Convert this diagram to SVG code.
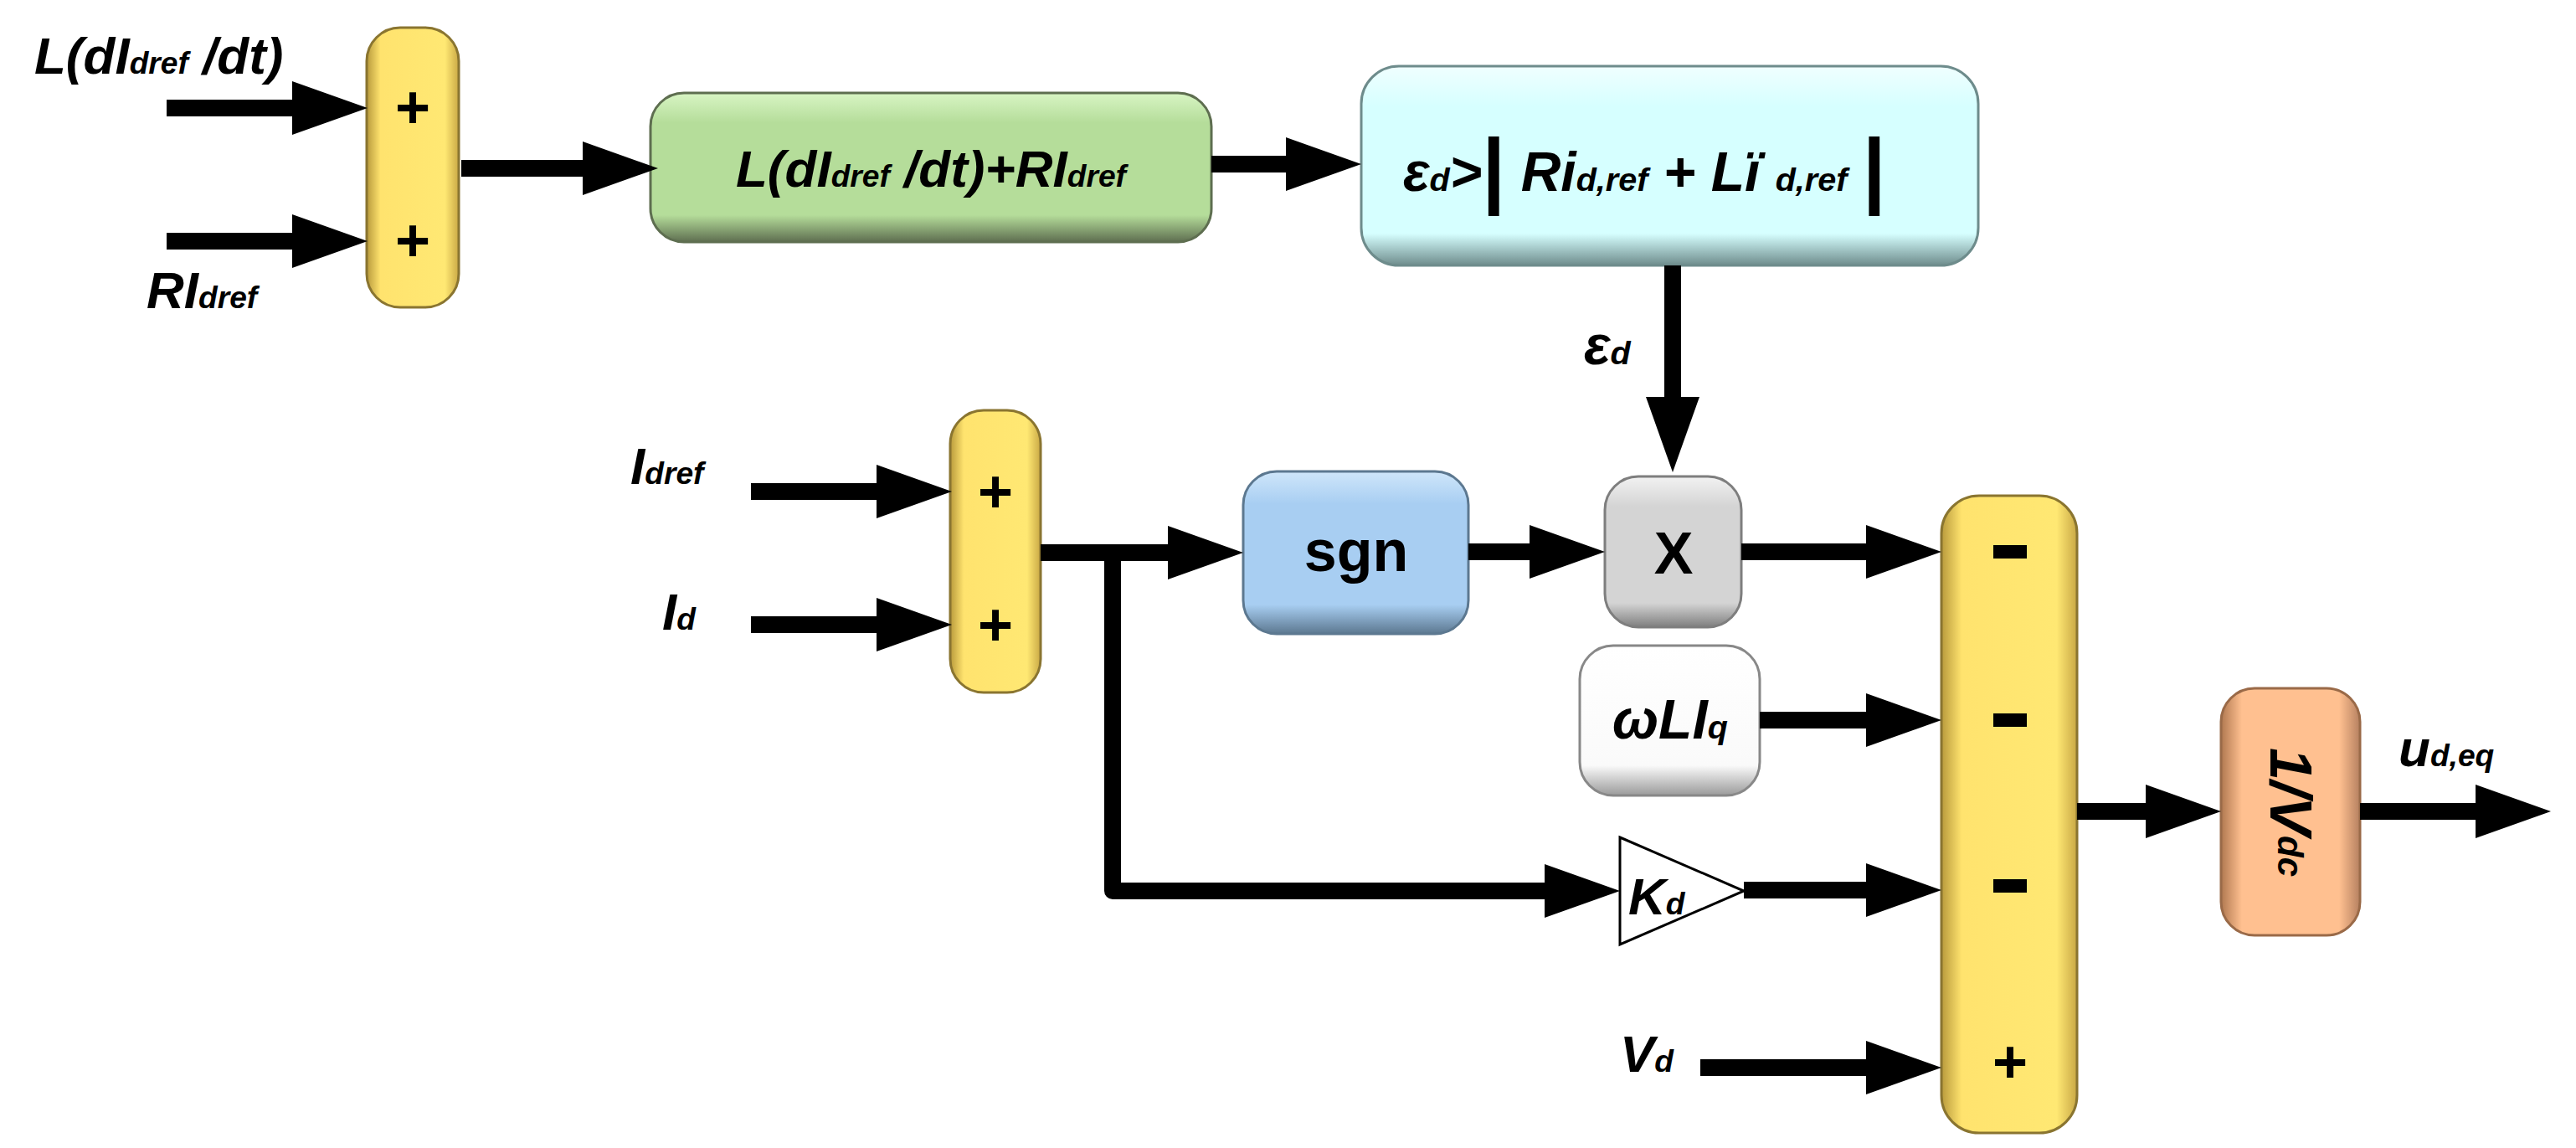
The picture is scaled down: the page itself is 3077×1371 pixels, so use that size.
<svg xmlns="http://www.w3.org/2000/svg" width="3077" height="1371" viewBox="0 0 3077 1371">
<style>
.t{font-family:"Liberation Sans",Arial,sans-serif;font-weight:bold;font-style:italic;fill:#000}
.u{font-family:"Liberation Sans",Arial,sans-serif;font-weight:bold;fill:#000}
.s{font-size:0.6em}
.c{fill:none;stroke:#000;stroke-width:20;stroke-linejoin:round}
.box{stroke-width:3}
</style>
<defs>
<marker id="ah" markerUnits="userSpaceOnUse" markerWidth="90" markerHeight="64" viewBox="0 0 90 64" refX="30" refY="32" orient="auto"><path d="M0,0 L90,32 L0,64 z" fill="#000"/></marker>
<linearGradient id="gy" x1="0" y1="0" x2="1" y2="0"><stop offset="0" stop-color="#B89A3C"/><stop offset="0.15" stop-color="#FFE36E"/><stop offset="0.85" stop-color="#FFE873"/><stop offset="1" stop-color="#C9A845"/></linearGradient>
<linearGradient id="gg" x1="0" y1="0" x2="0" y2="1"><stop offset="0" stop-color="#D8F5C4"/><stop offset="0.2" stop-color="#B5DD9A"/><stop offset="0.82" stop-color="#B5DD9A"/><stop offset="1" stop-color="#5E6E50"/></linearGradient>
<linearGradient id="gc" x1="0" y1="0" x2="0" y2="1"><stop offset="0" stop-color="#F0FFFF"/><stop offset="0.2" stop-color="#D6FFFF"/><stop offset="0.84" stop-color="#D6FFFF"/><stop offset="1" stop-color="#6E8C8C"/></linearGradient>
<linearGradient id="gb" x1="0" y1="0" x2="0" y2="1"><stop offset="0" stop-color="#CFE6FA"/><stop offset="0.2" stop-color="#A8CEF2"/><stop offset="0.82" stop-color="#A8CEF2"/><stop offset="1" stop-color="#5C7890"/></linearGradient>
<linearGradient id="ggr" x1="0" y1="0" x2="0" y2="1"><stop offset="0" stop-color="#F2F2F2"/><stop offset="0.2" stop-color="#D4D4D4"/><stop offset="0.84" stop-color="#D4D4D4"/><stop offset="1" stop-color="#7E7E7E"/></linearGradient>
<linearGradient id="gw" x1="0" y1="0" x2="0" y2="1"><stop offset="0" stop-color="#FFFFFF"/><stop offset="0.8" stop-color="#FAFAFA"/><stop offset="1" stop-color="#9A9A9A"/></linearGradient>
<linearGradient id="go" x1="0" y1="0" x2="1" y2="0"><stop offset="0" stop-color="#B07850"/><stop offset="0.15" stop-color="#FFC090"/><stop offset="0.85" stop-color="#FFC090"/><stop offset="1" stop-color="#B58060"/></linearGradient>
</defs>

<g id="sum1"><rect x="438" y="33" width="110" height="334" rx="40" fill="url(#gy)" stroke="#8A7530" class="box"/>
<text class="u" x="493" y="153" font-size="72" text-anchor="middle">+</text>
<text class="u" x="493" y="312" font-size="72" text-anchor="middle">+</text></g>

<g id="green"><rect x="777" y="111" width="670" height="178" rx="40" fill="url(#gg)" stroke="#5E6E50" class="box"/>
<text class="t" x="1112" y="223" font-size="62" text-anchor="middle">L(dI<tspan class="s">dref</tspan> /dt)+RI<tspan class="s">dref</tspan></text></g>

<g id="cyan"><rect x="1626" y="79" width="737" height="238" rx="45" fill="url(#gc)" stroke="#6E8C8C" class="box"/>
<text class="t" x="1676" y="228" font-size="66">ε<tspan class="s">d</tspan>&gt;<tspan font-style="normal" font-size="100" dy="8">|</tspan><tspan dy="-8"> Ri</tspan><tspan class="s">d,ref</tspan> + Lï <tspan class="s">d,ref</tspan> <tspan font-style="normal" font-size="100" dy="8">|</tspan></text></g>

<g id="sum2"><rect x="1135" y="490" width="108" height="337" rx="40" fill="url(#gy)" stroke="#8A7530" class="box"/>
<text class="u" x="1189" y="612" font-size="72" text-anchor="middle">+</text>
<text class="u" x="1189" y="771" font-size="72" text-anchor="middle">+</text></g>

<g id="sgn"><rect x="1485" y="563" width="269" height="194" rx="40" fill="url(#gb)" stroke="#5C7890" class="box"/>
<text class="u" x="1620" y="682" font-size="70" text-anchor="middle">sgn</text></g>

<g id="mult"><rect x="1917" y="569" width="163" height="180" rx="40" fill="url(#ggr)" stroke="#7E7E7E" class="box"/>
<text class="u" x="1999" y="685" font-size="70" text-anchor="middle">X</text></g>

<g id="wli"><rect x="1887" y="771" width="215" height="179" rx="40" fill="url(#gw)" stroke="#888" class="box"/>
<text class="t" x="1995" y="882" font-size="66" text-anchor="middle">ωLI<tspan class="s">q</tspan></text></g>

<g id="kd"><polygon points="1935,1000 2083,1064 1935,1128" fill="#fff" stroke="#000" stroke-width="3"/>
<text class="t" x="1945" y="1092" font-size="62">K<tspan class="s">d</tspan></text></g>

<g id="sum3"><rect x="2319" y="592" width="162" height="761" rx="45" fill="url(#gy)" stroke="#8A7530" class="box"/>
<rect x="2381" y="651" width="40" height="16" fill="#000"/>
<rect x="2381" y="852" width="40" height="16" fill="#000"/>
<rect x="2381" y="1050" width="40" height="16" fill="#000"/>
<text class="u" x="2401" y="1293" font-size="72" text-anchor="middle">+</text></g>

<g id="vdc"><rect x="2653" y="822" width="166" height="295" rx="40" fill="url(#go)" stroke="#9A6A48" class="box"/>
<text class="t" x="2736" y="970" font-size="70" text-anchor="middle" dominant-baseline="central" transform="rotate(90 2736 970)">1/V<tspan class="s">dc</tspan></text></g>

<g id="labels">
<text class="t" x="41" y="88" font-size="62">L(dI<tspan class="s">dref</tspan> /dt)</text>
<text class="t" x="175" y="368" font-size="62">RI<tspan class="s">dref</tspan></text>
<text class="t" x="753" y="578" font-size="62">I<tspan class="s">dref</tspan></text>
<text class="t" x="791" y="752" font-size="62">I<tspan class="s">d</tspan></text>
<text class="t" x="1892" y="435" font-size="66">ε<tspan class="s">d</tspan></text>
<text class="t" x="1935" y="1280" font-size="62">V<tspan class="s">d</tspan></text>
<text class="t" x="2865" y="915" font-size="62">u<tspan class="s">d,eq</tspan></text>
</g>

<g id="connectors">
<path class="c" d="M199,129 H379" marker-end="url(#ah)"/>
<path class="c" d="M199,288 H379" marker-end="url(#ah)"/>
<path class="c" d="M551,201 H726" marker-end="url(#ah)"/>
<path class="c" d="M1447,196 H1566" marker-end="url(#ah)"/>
<path class="c" d="M1998,317 V504" marker-end="url(#ah)"/>
<path class="c" d="M897,587 H1077" marker-end="url(#ah)"/>
<path class="c" d="M897,746 H1077" marker-end="url(#ah)"/>
<path class="c" d="M1243,660 H1425" marker-end="url(#ah)"/>
<path class="c" d="M1329,660 V1064 H1875" marker-end="url(#ah)"/>
<path class="c" d="M1754,659 H1857" marker-end="url(#ah)"/>
<path class="c" d="M2080,659 H2259" marker-end="url(#ah)"/>
<path class="c" d="M2102,860 H2259" marker-end="url(#ah)"/>
<path class="c" d="M2083,1063 H2259" marker-end="url(#ah)"/>
<path class="c" d="M2031,1275 H2259" marker-end="url(#ah)"/>
<path class="c" d="M2481,969 H2593" marker-end="url(#ah)"/>
<path class="c" d="M2819,969 H2987" marker-end="url(#ah)"/>
</g>
</svg>
